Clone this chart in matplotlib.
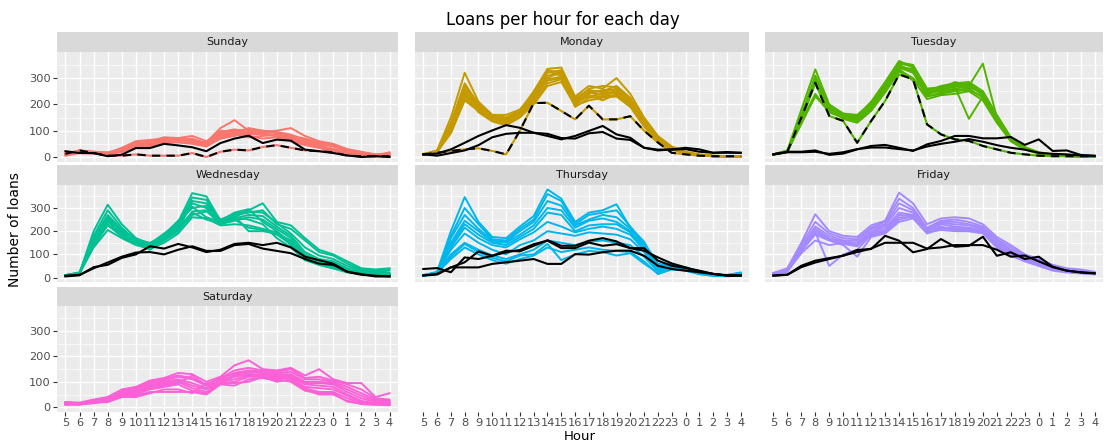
import matplotlib
matplotlib.use("Agg")
import matplotlib.pyplot as plt

# heures affichées (5h -> 4h du matin)
hours = ['5', '6', '7', '8', '9', '10', '11', '12', '13', '14', '15', '16', '17',
         '18', '19', '20', '21', '22', '23', '0', '1', '2', '3', '4']
days = ['Sunday', 'Monday', 'Tuesday', 'Wednesday', 'Thursday', 'Friday', 'Saturday']
day_colors = ['#F8766D', '#C49A00', '#53B400', '#00C094', '#00B6EB', '#A58AFF', '#FB61D7']

# --- Sunday ---
sunday_lines = [
    [10, 25, 20, 15, 30, 55, 55, 70, 70, 65, 55, 110, 140, 100, 95, 100, 110, 80, 60, 50, 30, 20, 10, 15],
    [8, 20, 18, 12, 25, 50, 60, 75, 72, 80, 60, 95, 105, 95, 100, 90, 80, 70, 55, 45, 25, 15, 10, 10],
    [12, 22, 15, 10, 20, 45, 50, 65, 65, 70, 50, 90, 100, 105, 90, 95, 85, 65, 50, 40, 20, 10, 5, 5],
    [15, 18, 20, 18, 30, 55, 55, 60, 60, 55, 45, 80, 95, 90, 85, 85, 75, 60, 45, 30, 20, 10, 5, 8],
    [5, 15, 12, 10, 25, 40, 45, 55, 60, 60, 40, 75, 90, 110, 100, 95, 70, 55, 40, 30, 15, 10, 5, 3],
    [10, 25, 20, 15, 35, 60, 65, 70, 65, 60, 55, 100, 95, 85, 90, 80, 65, 50, 35, 25, 15, 5, 3, 5],
    [8, 18, 15, 12, 20, 35, 40, 55, 55, 50, 40, 70, 85, 75, 80, 85, 70, 55, 40, 25, 10, 5, 3, 18],
    [12, 20, 18, 10, 25, 45, 50, 60, 65, 55, 50, 85, 90, 80, 70, 75, 60, 45, 35, 20, 12, 8, 5, 5],
    [10, 22, 15, 12, 22, 40, 50, 55, 60, 65, 45, 70, 80, 95, 85, 80, 65, 50, 40, 25, 15, 5, 3, 3],
]
sunday_black = [
    [22, 15, 15, 3, 9, 34, 34, 50, 44, 37, 22, 53, 70, 81, 53, 66, 62, 28, 22, 15, 6, 0, 3, 0],
]
sunday_dashed = [
    [12, 25, 15, 5, 5, 10, 5, 5, 5, 15, 0, 20, 28, 25, 38, 45, 35, 25, 22, 18, 5, 3, 3, 3],
]

# --- Monday ---
monday_lines = [
    [10, 25, 150, 320, 210, 160, 150, 175, 250, 335, 340, 230, 270, 260, 300, 240, 150, 80, 40, 20, 10, 5, 3, 3],
    [8, 20, 130, 280, 200, 155, 140, 170, 240, 320, 330, 220, 250, 250, 270, 225, 140, 75, 35, 18, 8, 5, 3, 3],
    [10, 22, 120, 260, 195, 150, 135, 160, 230, 310, 315, 210, 260, 270, 265, 215, 135, 70, 35, 15, 8, 4, 3, 2],
    [12, 18, 110, 245, 185, 145, 130, 165, 220, 300, 325, 200, 240, 255, 255, 210, 130, 70, 30, 15, 6, 4, 3, 2],
    [10, 20, 100, 230, 180, 150, 145, 180, 235, 290, 300, 215, 230, 240, 250, 205, 125, 65, 30, 15, 6, 3, 2, 2],
    [8, 18, 95, 220, 175, 140, 125, 155, 210, 280, 295, 205, 245, 235, 245, 200, 120, 65, 32, 14, 6, 3, 2, 2],
    [10, 22, 115, 255, 190, 140, 150, 170, 225, 325, 310, 190, 225, 230, 235, 195, 125, 70, 35, 16, 7, 4, 3, 2],
    [9, 20, 105, 240, 170, 135, 120, 150, 200, 270, 285, 195, 215, 225, 230, 190, 115, 60, 28, 14, 6, 3, 2, 2],
    [11, 24, 125, 270, 205, 160, 160, 180, 245, 330, 320, 225, 255, 245, 260, 220, 145, 75, 38, 18, 8, 4, 3, 3],
    [10, 20, 90, 215, 175, 150, 140, 165, 215, 295, 305, 200, 235, 215, 240, 195, 130, 65, 30, 15, 7, 3, 3, 2],
]
monday_black = [
    [10, 13, 29, 54, 80, 101, 121, 111, 92, 80, 67, 80, 99, 118, 86, 73, 35, 25, 29, 35, 29, 16, 19, 16],
    [10, 5, 15, 25, 45, 75, 88, 92, 92, 88, 72, 70, 90, 95, 70, 65, 35, 28, 28, 30, 20, 16, 16, 16],
]
monday_dashed = [
    [10, 16, 23, 29, 33, 23, 10, 100, 205, 206, 175, 143, 195, 143, 143, 155, 100, 55, 16, 10, 5, 3, 3, 3],
]

# --- Tuesday ---
tuesday_lines = [
    [10, 25, 180, 333, 200, 165, 160, 205, 280, 360, 350, 260, 265, 275, 280, 240, 155, 70, 35, 16, 8, 5, 3, 3],
    [8, 20, 160, 300, 190, 160, 150, 195, 270, 355, 345, 250, 270, 280, 285, 250, 160, 75, 38, 18, 10, 5, 3, 3],
    [10, 22, 150, 290, 185, 155, 145, 190, 265, 345, 330, 240, 255, 270, 275, 235, 145, 65, 32, 15, 8, 4, 3, 2],
    [9, 18, 140, 280, 180, 150, 140, 185, 260, 340, 320, 235, 260, 265, 145, 230, 140, 60, 30, 14, 7, 4, 2, 2],
    [10, 24, 130, 230, 175, 160, 150, 200, 255, 330, 300, 245, 250, 260, 270, 355, 150, 70, 35, 16, 8, 4, 3, 2],
    [11, 20, 135, 240, 170, 150, 135, 180, 250, 335, 290, 230, 245, 255, 260, 225, 135, 65, 30, 14, 7, 3, 2, 2],
    [10, 22, 155, 310, 195, 165, 155, 210, 285, 365, 340, 255, 265, 270, 265, 245, 150, 70, 35, 17, 9, 5, 3, 3],
    [9, 19, 145, 285, 180, 145, 130, 175, 245, 325, 295, 220, 235, 240, 250, 215, 130, 60, 28, 13, 6, 3, 2, 2],
    [10, 21, 125, 235, 170, 150, 140, 190, 260, 350, 325, 230, 240, 250, 255, 230, 140, 65, 32, 15, 7, 4, 3, 2],
    [10, 23, 150, 300, 195, 160, 150, 200, 270, 340, 335, 245, 260, 285, 270, 240, 150, 68, 34, 16, 8, 4, 3, 3],
]
tuesday_black = [
    [10, 20, 20, 25, 8, 13, 29, 42, 46, 35, 23, 48, 61, 80, 80, 71, 71, 76, 46, 67, 23, 25, 8, 4],
    [10, 18, 18, 20, 12, 18, 30, 36, 36, 30, 25, 40, 50, 58, 68, 58, 45, 35, 28, 16, 12, 10, 6, 5],
]
tuesday_dashed = [
    [10, 20, 150, 282, 156, 137, 54, 137, 213, 314, 295, 124, 86, 67, 61, 42, 29, 16, 10, 5, 3, 3, 3, 3],
]

# --- Wednesday ---
wednesday_lines = [
    [10, 20, 200, 314, 230, 170, 145, 175, 240, 364, 350, 245, 260, 290, 320, 240, 225, 170, 120, 100, 70, 40, 35, 40],
    [8, 18, 180, 290, 215, 160, 140, 170, 230, 345, 335, 240, 270, 280, 290, 230, 210, 160, 110, 95, 60, 35, 30, 38],
    [10, 22, 170, 270, 205, 165, 150, 180, 225, 330, 320, 250, 275, 285, 280, 235, 190, 130, 95, 80, 50, 30, 25, 30],
    [9, 20, 160, 255, 195, 150, 130, 165, 210, 320, 300, 235, 255, 270, 265, 220, 180, 110, 80, 70, 40, 25, 20, 20],
    [10, 19, 150, 240, 185, 155, 135, 185, 245, 300, 310, 245, 280, 295, 240, 200, 150, 90, 65, 55, 35, 20, 15, 15],
    [11, 21, 140, 225, 180, 145, 120, 160, 200, 285, 290, 230, 245, 260, 250, 210, 170, 95, 70, 50, 30, 18, 12, 14],
    [10, 20, 130, 205, 170, 140, 125, 150, 190, 260, 255, 225, 230, 225, 210, 195, 140, 80, 55, 40, 25, 15, 10, 12],
    [9, 18, 145, 250, 190, 160, 145, 190, 235, 305, 260, 240, 250, 215, 205, 185, 145, 85, 60, 45, 28, 16, 12, 12],
    [10, 22, 155, 265, 200, 150, 140, 175, 215, 280, 250, 235, 265, 200, 200, 190, 160, 100, 75, 60, 35, 22, 18, 16],
    [8, 17, 135, 230, 175, 145, 130, 170, 205, 270, 285, 240, 260, 250, 230, 170, 130, 75, 55, 40, 22, 15, 10, 10],
]
wednesday_black = [
    [5, 10, 45, 55, 85, 100, 135, 125, 145, 130, 110, 120, 145, 150, 140, 150, 130, 90, 75, 60, 25, 15, 5, 5],
    [8, 12, 40, 65, 90, 108, 110, 100, 120, 135, 115, 115, 140, 145, 125, 115, 105, 80, 60, 55, 25, 12, 8, 5],
]

# --- Thursday ---
thursday_lines = [
    [10, 25, 200, 347, 240, 175, 170, 220, 265, 380, 340, 240, 280, 290, 316, 215, 155, 40, 45, 40, 25, 15, 12, 20],
    [8, 20, 180, 300, 230, 165, 160, 210, 250, 360, 330, 230, 270, 280, 290, 220, 150, 60, 50, 45, 25, 12, 10, 15],
    [10, 22, 170, 270, 210, 160, 155, 200, 240, 330, 310, 225, 250, 270, 260, 210, 140, 50, 60, 40, 20, 12, 8, 15],
    [12, 18, 150, 245, 200, 155, 150, 185, 225, 300, 290, 215, 245, 255, 240, 200, 130, 45, 55, 35, 20, 10, 8, 12],
    [9, 20, 140, 230, 185, 150, 140, 175, 210, 280, 270, 200, 225, 230, 230, 195, 125, 35, 40, 30, 18, 10, 8, 10],
    [10, 22, 130, 215, 170, 140, 130, 165, 195, 240, 220, 195, 210, 220, 210, 185, 120, 20, 45, 35, 15, 8, 6, 8],
    [10, 20, 120, 190, 150, 120, 100, 140, 160, 200, 190, 180, 195, 190, 185, 165, 110, 30, 50, 40, 20, 12, 10, 22],
    [8, 18, 100, 150, 120, 95, 80, 100, 120, 160, 150, 140, 155, 160, 150, 140, 90, 25, 40, 35, 18, 10, 8, 20],
    [9, 20, 80, 130, 100, 75, 60, 80, 95, 130, 110, 120, 130, 120, 115, 110, 70, 15, 35, 30, 15, 8, 6, 10],
    [10, 19, 90, 145, 110, 85, 70, 95, 100, 145, 75, 100, 115, 110, 95, 105, 60, 20, 45, 40, 20, 10, 8, 18],
]
thursday_black = [
    [37, 41, 23, 87, 80, 94, 109, 119, 144, 159, 127, 127, 151, 137, 144, 127, 127, 73, 51, 41, 30, 16, 9, 9],
    [9, 13, 44, 66, 113, 94, 116, 113, 137, 161, 137, 137, 159, 170, 156, 127, 116, 87, 61, 44, 27, 16, 9, 9],
    [9, 16, 44, 44, 44, 59, 66, 73, 80, 59, 59, 101, 99, 109, 116, 116, 94, 51, 37, 30, 23, 16, 9, 9],
]

# --- Friday ---
friday_lines = [
    [20, 40, 150, 273, 200, 180, 175, 225, 245, 366, 320, 230, 255, 260, 255, 230, 175, 140, 100, 80, 55, 40, 35, 25],
    [15, 35, 140, 240, 190, 170, 165, 215, 240, 340, 300, 215, 245, 250, 240, 220, 165, 130, 95, 75, 50, 35, 30, 22],
    [10, 30, 130, 220, 180, 160, 160, 210, 230, 320, 290, 210, 240, 240, 230, 215, 160, 120, 90, 70, 45, 32, 28, 20],
    [12, 28, 125, 210, 170, 155, 150, 200, 225, 300, 280, 205, 235, 230, 225, 210, 150, 115, 85, 65, 40, 30, 25, 18],
    [18, 32, 120, 200, 165, 150, 140, 195, 215, 280, 270, 200, 230, 220, 215, 205, 145, 110, 85, 60, 40, 28, 22, 18],
    [10, 25, 110, 190, 165, 145, 135, 190, 205, 270, 265, 195, 215, 215, 210, 200, 140, 105, 80, 60, 35, 25, 22, 15],
    [15, 35, 115, 195, 50, 100, 120, 185, 200, 260, 260, 205, 220, 205, 205, 195, 135, 100, 75, 55, 35, 25, 20, 15],
    [20, 30, 120, 185, 160, 140, 90, 175, 190, 240, 255, 190, 210, 210, 200, 195, 130, 95, 70, 50, 30, 22, 18, 14],
    [12, 28, 105, 160, 140, 150, 150, 180, 195, 250, 265, 195, 205, 200, 200, 190, 130, 100, 75, 55, 35, 25, 20, 16],
]
friday_black = [
    [9, 13, 51, 73, 84, 94, 119, 123, 180, 159, 109, 123, 166, 133, 137, 176, 94, 109, 80, 90, 47, 30, 23, 19],
    [8, 12, 45, 65, 80, 95, 110, 125, 150, 150, 150, 125, 130, 140, 140, 140, 120, 90, 95, 70, 45, 30, 22, 18],
]

# --- Saturday ---
saturday_lines = [
    [20, 18, 30, 40, 70, 80, 105, 115, 135, 130, 100, 120, 165, 185, 150, 145, 155, 125, 150, 110, 95, 95, 40, 55],
    [15, 15, 28, 38, 65, 75, 100, 110, 125, 115, 90, 115, 145, 155, 145, 140, 150, 115, 120, 105, 90, 70, 35, 30],
    [12, 12, 25, 35, 60, 70, 95, 105, 120, 110, 85, 110, 135, 145, 140, 135, 140, 110, 110, 100, 80, 55, 30, 25],
    [18, 16, 22, 32, 55, 65, 90, 100, 110, 95, 75, 105, 125, 140, 135, 130, 130, 100, 100, 95, 70, 45, 25, 20],
    [10, 10, 20, 30, 50, 60, 85, 95, 105, 85, 70, 100, 120, 130, 130, 125, 125, 95, 95, 90, 60, 35, 20, 15],
    [14, 14, 18, 28, 45, 55, 80, 90, 100, 75, 60, 100, 110, 125, 125, 120, 120, 90, 85, 80, 50, 25, 15, 12],
    [10, 12, 15, 25, 40, 50, 70, 80, 90, 65, 55, 95, 100, 120, 120, 115, 115, 80, 75, 70, 45, 20, 15, 10],
    [20, 15, 20, 22, 45, 45, 60, 60, 60, 60, 50, 90, 85, 110, 115, 105, 105, 75, 60, 60, 35, 15, 12, 10],
    [12, 14, 25, 30, 55, 60, 75, 85, 95, 125, 85, 95, 95, 100, 120, 100, 110, 70, 50, 50, 25, 12, 10, 8],
    [16, 10, 18, 20, 40, 40, 55, 70, 70, 55, 95, 90, 130, 135, 115, 110, 100, 65, 55, 55, 22, 15, 10, 20],
]

colored = [sunday_lines, monday_lines, tuesday_lines, wednesday_lines,
           thursday_lines, friday_lines, saturday_lines]
blacks = [sunday_black, monday_black, tuesday_black, wednesday_black,
          thursday_black, friday_black, []]
dashed = [sunday_dashed, monday_dashed, tuesday_dashed, [], [], [], []]

W, H = 1104, 442
fig = plt.figure(figsize=(W / 100, H / 100), dpi=100)
plt.rcParams['font.family'] = 'DejaVu Sans'

cols = [(57, 398), (415, 749), (765, 1103)]
rows = [(32, 52, 162), (165, 185, 282), (287, 306, 412)]


def box(x0, y0, x1, y1):
    return fig.add_axes([x0 / W, 1 - y1 / H, (x1 - x0) / W, (y1 - y0) / H])


x = list(range(len(hours)))


def style_panel(ax, show_y, show_x):
    ax.set_facecolor('#EBEBEB')
    ax.set_xlim(-0.6, len(hours) - 0.4)
    ax.set_ylim(-19, 399)
    ax.set_yticks([0, 100, 200, 300])
    ax.set_yticks([50, 150, 250, 350], minor=True)
    ax.set_xticks(x)
    ax.set_xticklabels(hours)
    ax.grid(True, which='major', color='white', lw=1.0)
    ax.grid(True, which='minor', axis='y', color='white', lw=0.5)
    ax.set_axisbelow(True)
    for s in ax.spines.values():
        s.set_visible(False)
    ax.tick_params(which='minor', length=0)
    ax.tick_params(axis='both', colors='#333333', labelcolor='#4D4D4D',
                   labelsize=8.2, length=3, width=0.8, pad=1.5)
    if not show_y:
        ax.tick_params(axis='y', left=False, labelleft=False)
    if not show_x:
        ax.tick_params(axis='x', bottom=False, labelbottom=False)


for i, day in enumerate(days):
    r, c = divmod(i, 3)
    top, ptop, pbot = rows[r]
    x0, x1 = cols[c]
    strip = box(x0, top, x1, ptop)
    strip.set_facecolor('#D9D9D9')
    strip.set_xticks([])
    strip.set_yticks([])
    for s in strip.spines.values():
        s.set_visible(False)
    strip.text(0.5, 0.5, day, ha='center', va='center', fontsize=8, color='#1A1A1A')

    ax = box(x0, ptop, x1, pbot)
    style_panel(ax, show_y=(c == 0), show_x=(i == 6))
    for vals in colored[i]:
        ax.plot(x, vals, color=day_colors[i], lw=1.4)
    for vals in dashed[i]:
        ax.plot(x, vals, color=day_colors[i], lw=1.5)
        ax.plot(x, vals, color='black', lw=1.5, dashes=(4, 3))
    for vals in blacks[i]:
        ax.plot(x, vals, color='black', lw=1.5)

# axes x seuls sous les colonnes vides
for c in (1, 2):
    x0, x1 = cols[c]
    top, ptop, pbot = rows[2]
    ax = box(x0, ptop, x1, pbot)
    style_panel(ax, show_y=False, show_x=True)
    ax.set_facecolor('none')
    ax.grid(False)
    ax.grid(False, which='minor')

fig.text(563 / W, 1 - 20 / H, 'Loans per hour for each day', ha='center', va='center',
         fontsize=12, color='black')
fig.text(15 / W, 1 - 230 / H, 'Number of loans', rotation=90, ha='center', va='center',
         fontsize=10, color='black')
fig.text(580 / W, 1 - 437 / H, 'Hour', ha='center', va='center', fontsize=9.5, color='black')

fig.savefig('out.png', dpi=100)
